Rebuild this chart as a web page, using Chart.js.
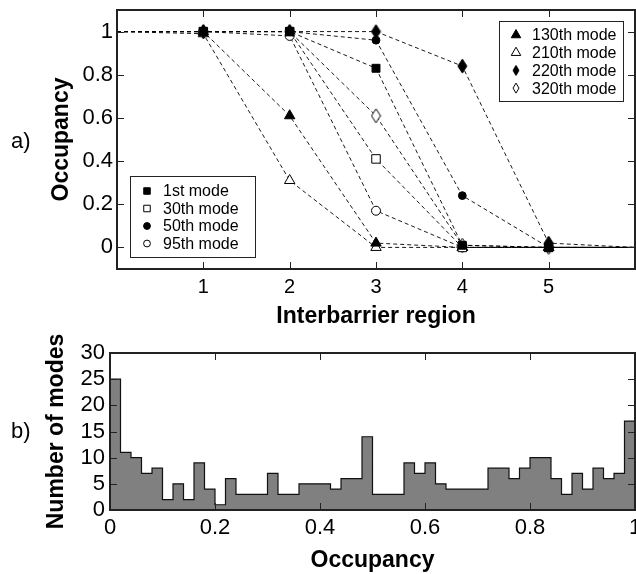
<!DOCTYPE html>
<html>
<head>
<meta charset="utf-8">
<script src="https://cdn.jsdelivr.net/npm/chart.js@4.4.1/dist/chart.umd.min.js"></script>
<style>
  html, body { margin: 0; padding: 0; background: #fff; }
  #page { position: relative; width: 636px; height: 574px; overflow: hidden; font-family: "Liberation Sans", Arial, sans-serif; }
  canvas { position: absolute; left: 0; }
  #occCanvas { top: 0; }
  #histCanvas { top: 330px; }
  .panel { position: absolute; font-size: 22px; line-height: 22px; color: #000; }
</style>
</head>
<body>
<div id="page">
  <canvas id="occCanvas" width="636" height="330"></canvas>
  <canvas id="histCanvas" width="636" height="244"></canvas>
  <div class="panel" style="left:11px;top:130px">a)</div>
  <div class="panel" style="left:11px;top:420px">b)</div>
</div>
<script>
// ---------------------------------------------------------------------
// data
// ---------------------------------------------------------------------

// a) occupancy per interbarrier region (regions 0 and 6 are the plot edges)
const regions = [0, 1, 2, 3, 4, 5, 6];
const mode1   = [1, 1, 1,    0.83, 0.01, 0,    0];
const mode30  = [1, 1, 1,    0.41, 0,    0,    0];
const mode50  = [1, 1, 1,    0.96, 0.24, 0,    0];
const mode95  = [1, 1, 0.98, 0.17, 0,    0,    0];
const mode130 = [1, 1, 0.61, 0.02, 0,    0,    0];
const mode210 = [1, 0.99, 0.31, 0, 0,    0,    0];
const mode220 = [1, 1, 1,    1,    0.84, 0.02, 0];
const mode320 = [1, 1, 1,    0.61, 0.01, 0,    0];

const regionTicks    = [1, 2, 3, 4, 5];
const occupancyTicks = [0, 0.2, 0.4, 0.6, 0.8, 1];

// b) histogram of mode occupancy, 50 bins of width 0.02
const BIN = 0.02;
const modeCounts = [
  25, 11, 10, 7, 8, 2, 5, 2, 9, 4,
   1,  6,  3, 3, 3, 7, 3, 3, 5, 5,
   5,  4,  6, 6, 14, 3, 3, 3, 9, 7,
   9,  5,  4, 4, 4, 4, 8, 8, 6, 8,
  10, 10,  6, 3, 7, 4, 8, 6, 7, 17
];
const countTicks = [0, 5, 10, 15, 20, 25, 30];

// ---------------------------------------------------------------------
// helpers
// ---------------------------------------------------------------------
Chart.defaults.font.family = '"Liberation Sans", Arial, sans-serif';
Chart.defaults.color = '#000';

/** Tall narrow diamond marker as a canvas point style. */
function makeDiamond(filled, w, h) {
  const c = document.createElement('canvas');
  c.width = w + 2;
  c.height = h + 2;
  const g = c.getContext('2d');
  g.beginPath();
  g.moveTo(c.width / 2, 1);
  g.lineTo(c.width - 1, c.height / 2);
  g.lineTo(c.width / 2, c.height - 1);
  g.lineTo(1, c.height / 2);
  g.closePath();
  g.fillStyle = filled ? '#000' : '#fff';
  g.fill();
  g.lineWidth = 1;
  g.strokeStyle = '#000';
  g.stroke();
  return c;
}

function series(label, values, style, radius, filled, legendStyle, legendRadius) {
  const last = regions.length - 1;
  return {
    label,
    data: values.map((v, i) => ({ x: regions[i], y: v })),
    borderColor: '#000',
    borderWidth: 0.9,
    borderDash: [4, 3],
    tension: 0,
    fill: false,
    pointStyle: style,
    pointRadius: regions.map((r, i) => (i === 0 || i === last) ? 0 : radius),
    pointBackgroundColor: filled ? '#000' : '#fff',
    pointBorderColor: '#000',
    pointBorderWidth: 1,
    legendStyle: legendStyle || style,
    legendRadius: legendRadius || radius,
  };
}

// inward tick marks on all four sides + frame
const frameTicks = {
  id: 'frameTicks',
  afterDatasetsDraw(chart, args, opts) {
    const { ctx, chartArea: a, scales: { x, y } } = chart;
    const len = opts.length || 7;
    ctx.save();
    ctx.strokeStyle = '#222';
    ctx.lineWidth = 1;
    ctx.beginPath();
    x.ticks.forEach(t => {
      if (t.value <= x.min || t.value >= x.max) return;
      const px = Math.round(x.getPixelForValue(t.value)) + 0.5;
      ctx.moveTo(px, a.bottom); ctx.lineTo(px, a.bottom - len);
      ctx.moveTo(px, a.top);    ctx.lineTo(px, a.top + len);
    });
    y.ticks.forEach(t => {
      if (t.value <= y.min || t.value >= y.max) return;
      const py = Math.round(y.getPixelForValue(t.value)) + 0.5;
      ctx.moveTo(a.left, py);  ctx.lineTo(a.left + len, py);
      ctx.moveTo(a.right, py); ctx.lineTo(a.right - len, py);
    });
    ctx.stroke();
    ctx.lineWidth = 2;
    ctx.strokeRect(a.left, a.top, a.right - a.left, a.bottom - a.top);
    ctx.restore();
  }
};

// boxed legends placed inside the plot
const boxLegend = {
  id: 'boxLegend',
  afterDatasetsDraw(chart, args, opts) {
    const { ctx } = chart;
    (opts.boxes || []).forEach(box => {
      ctx.save();
      ctx.fillStyle = '#fff';
      ctx.strokeStyle = '#222';
      ctx.lineWidth = 1;
      ctx.fillRect(box.x, box.y, box.w, box.h);
      ctx.strokeRect(box.x + 0.5, box.y + 0.5, box.w, box.h);
      box.items.forEach((idx, i) => {
        const ds = chart.data.datasets[idx];
        const cy = box.y + box.first + i * box.step;
        ctx.fillStyle = ds.pointBackgroundColor;
        ctx.strokeStyle = '#000';
        ctx.lineWidth = 1;
        Chart.helpers.drawPoint(ctx, {
          pointStyle: ds.legendStyle, radius: ds.legendRadius, rotation: 0, borderWidth: 1
        }, box.x + box.markerX, cy);
        ctx.fillStyle = '#000';
        ctx.font = '16px "Liberation Sans", Arial, sans-serif';
        ctx.textBaseline = 'middle';
        ctx.textAlign = 'left';
        ctx.fillText(ds.label, box.x + box.textX, cy + 1);
      });
      ctx.restore();
    });
  }
};

const noPad = s => { s.paddingLeft = 0; s.paddingRight = 0; s.paddingTop = 0; s.paddingBottom = 0; };
const fmt = v => String(Math.round(v * 10) / 10);

// ---------------------------------------------------------------------
// a) occupancy vs interbarrier region
// ---------------------------------------------------------------------
new Chart(document.getElementById('occCanvas'), {
  type: 'line',
  data: {
    datasets: [
      series('1st mode',   mode1,   'rect',     5.6, true,  null, 4.6),
      series('30th mode',  mode30,  'rect',     6,   false, null, 4.6),
      series('50th mode',  mode50,  'circle',   3.9, true,  null, 3.4),
      series('95th mode',  mode95,  'circle',   4.5, false, null, 3.4),
      series('130th mode', mode130, 'triangle', 6,   true,  null, 5.5),
      series('210th mode', mode210, 'triangle', 6,   false, null, 5.5),
      series('220th mode', mode220, makeDiamond(true, 9, 14),  7, true,  makeDiamond(true, 6, 10), 5),
      series('320th mode', mode320, makeDiamond(false, 9, 14), 7, false, makeDiamond(false, 6, 10), 5),
    ]
  },
  options: {
    responsive: false,
    animation: false,
    layout: { padding: { top: 10, right: 1, left: 0, bottom: 0 } },
    plugins: {
      legend: { display: false },
      tooltip: { enabled: false },
      frameTicks: { length: 7 },
      boxLegend: {
        boxes: [
          { x: 130, y: 176, w: 125, h: 81, first: 15, step: 17.5, markerX: 17, textX: 33, items: [0, 1, 2, 3] },
          { x: 499, y: 21,  w: 124, h: 80, first: 14, step: 17.7, markerX: 17, textX: 33, items: [4, 5, 6, 7] },
        ]
      }
    },
    scales: {
      x: {
        type: 'linear', min: 0, max: 6,
        afterBuildTicks: s => { s.ticks = regionTicks.map(v => ({ value: v })); },
        afterFit: s => { s.height = 61; noPad(s); },
        grid: { display: false, drawTicks: false },
        border: { display: false },
        ticks: { padding: 6, maxRotation: 0, autoSkip: false, font: { size: 20 }, callback: v => String(v) },
        title: { display: true, text: 'Interbarrier region', font: { size: 23, weight: 'bold' }, padding: { top: 0, bottom: 0 } }
      },
      y: {
        type: 'linear', min: -0.1, max: 1.1,
        afterBuildTicks: s => { s.ticks = occupancyTicks.map(v => ({ value: v })); },
        afterFit: s => { s.width = 117; noPad(s); },
        grid: { display: false, drawTicks: false },
        border: { display: false },
        ticks: { padding: 4, autoSkip: false, font: { size: 22 }, callback: fmt },
        title: { display: true, text: 'Occupancy', font: { size: 23, weight: 'bold' }, padding: { top: 48, bottom: 0 } }
      }
    }
  },
  plugins: [frameTicks, boxLegend]
});

// ---------------------------------------------------------------------
// b) histogram of occupancy
// ---------------------------------------------------------------------
const histPoints = modeCounts.map((c, i) => ({ x: i * BIN, y: c }))
  .concat([{ x: 1, y: modeCounts[modeCounts.length - 1] }]);

new Chart(document.getElementById('histCanvas'), {
  type: 'line',
  data: {
    datasets: [{
      label: 'Number of modes',
      data: histPoints,
      stepped: 'before',
      fill: 'origin',
      backgroundColor: '#808080',
      borderColor: '#111',
      borderWidth: 1.2,
      pointRadius: 0,
    }]
  },
  options: {
    responsive: false,
    animation: false,
    layout: { padding: { top: 23, right: 1, left: 0, bottom: 0 } },
    plugins: {
      legend: { display: false },
      tooltip: { enabled: false },
      frameTicks: { length: 7 }
    },
    scales: {
      x: {
        type: 'linear', min: 0, max: 1,
        afterBuildTicks: s => { s.ticks = occupancyTicks.map(v => ({ value: v })); },
        afterFit: s => { s.height = 64; noPad(s); },
        grid: { display: false, drawTicks: false },
        border: { display: false },
        ticks: { padding: 5, maxRotation: 0, autoSkip: false, font: { size: 22 }, callback: fmt },
        title: { display: true, text: 'Occupancy', font: { size: 23, weight: 'bold' }, padding: { top: 0, bottom: 0 } }
      },
      y: {
        type: 'linear', min: 0, max: 30,
        afterBuildTicks: s => { s.ticks = countTicks.map(v => ({ value: v })); },
        afterFit: s => { s.width = 110; noPad(s); },
        grid: { display: false, drawTicks: false },
        border: { display: false },
        ticks: { padding: 5, autoSkip: false, font: { size: 22 }, callback: v => String(v) },
        title: { display: true, text: 'Number of modes', font: { size: 23, weight: 'bold' }, padding: { top: 43, bottom: 0 } }
      }
    }
  },
  plugins: [frameTicks]
});
</script>
</body>
</html>
